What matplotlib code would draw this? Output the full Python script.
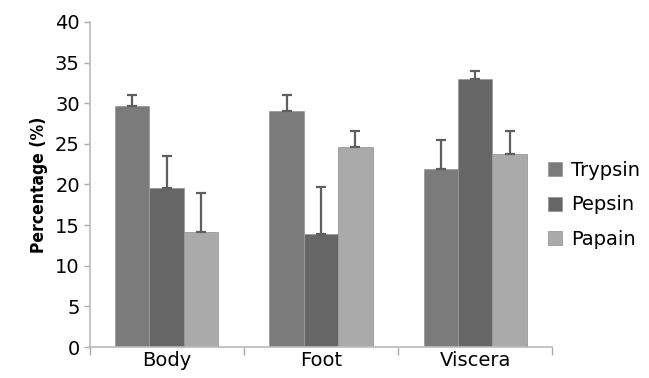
import numpy as np
import matplotlib.pyplot as plt

categories = ["Body", "Foot", "Viscera"]
series = ["Trypsin", "Pepsin", "Papain"]
trypsin = [29.7, 29.0, 21.9]
pepsin = [19.6, 13.9, 33.0]
papain = [14.2, 24.6, 23.7]
trypsin_err = [1.3, 2.0, 3.6]
pepsin_err = [3.9, 5.8, 1.0]
papain_err = [4.7, 2.0, 2.9]

values = [trypsin, pepsin, papain]
errors = [trypsin_err, pepsin_err, papain_err]
colors = ["#7b7b7b", "#666666", "#aaaaaa"]

fig = plt.figure(figsize=(6.49, 3.78), dpi=100)
ax = fig.add_axes([0.138, 0.082, 0.713, 0.860])

x = np.arange(len(categories))
w = 0.223
for i, (name, vals, err, c) in enumerate(zip(series, values, errors, colors)):
    pos = x + (i - 1) * w
    ax.bar(pos, vals, w, color=c, label=name, edgecolor="#9a9a9a", linewidth=0.6)
    ax.errorbar(pos, vals, yerr=[np.zeros(len(err)), err], fmt="none",
                ecolor="#5e5e5e", elinewidth=1.6, capsize=3.5, capthick=1.6)

ax.set_xlim(-0.5, 2.5)
ax.set_ylim(0, 40)
ax.set_yticks(np.arange(0, 41, 5))
ax.set_xticks(x)
ax.set_xticklabels(categories)
ax.set_xticks([-0.5, 0.5, 1.5, 2.5], minor=True)
ax.tick_params(axis="x", which="major", length=0, labelsize=14, pad=3)
ax.tick_params(axis="x", which="minor", length=6, color="#aaaaaa", width=1)
ax.tick_params(axis="y", length=4, color="#aaaaaa", width=1, labelsize=14, pad=3)

for s in ["top", "right"]:
    ax.spines[s].set_visible(False)
for s in ["left", "bottom"]:
    ax.spines[s].set_color("#bbbbbb")
    ax.spines[s].set_linewidth(1.2)

ax.set_ylabel("Percentage (%)", fontsize=12.5, fontweight="bold",
              family="DejaVu Sans", fontstretch="condensed", labelpad=5)

ax.legend(loc="center left", bbox_to_anchor=(0.99, 0.437), frameon=False,
          fontsize=14, handlelength=0.75, handleheight=0.75, handletextpad=0.45,
          labelspacing=0.8, borderpad=0, borderaxespad=0)

fig.savefig("out.png", dpi=100)
